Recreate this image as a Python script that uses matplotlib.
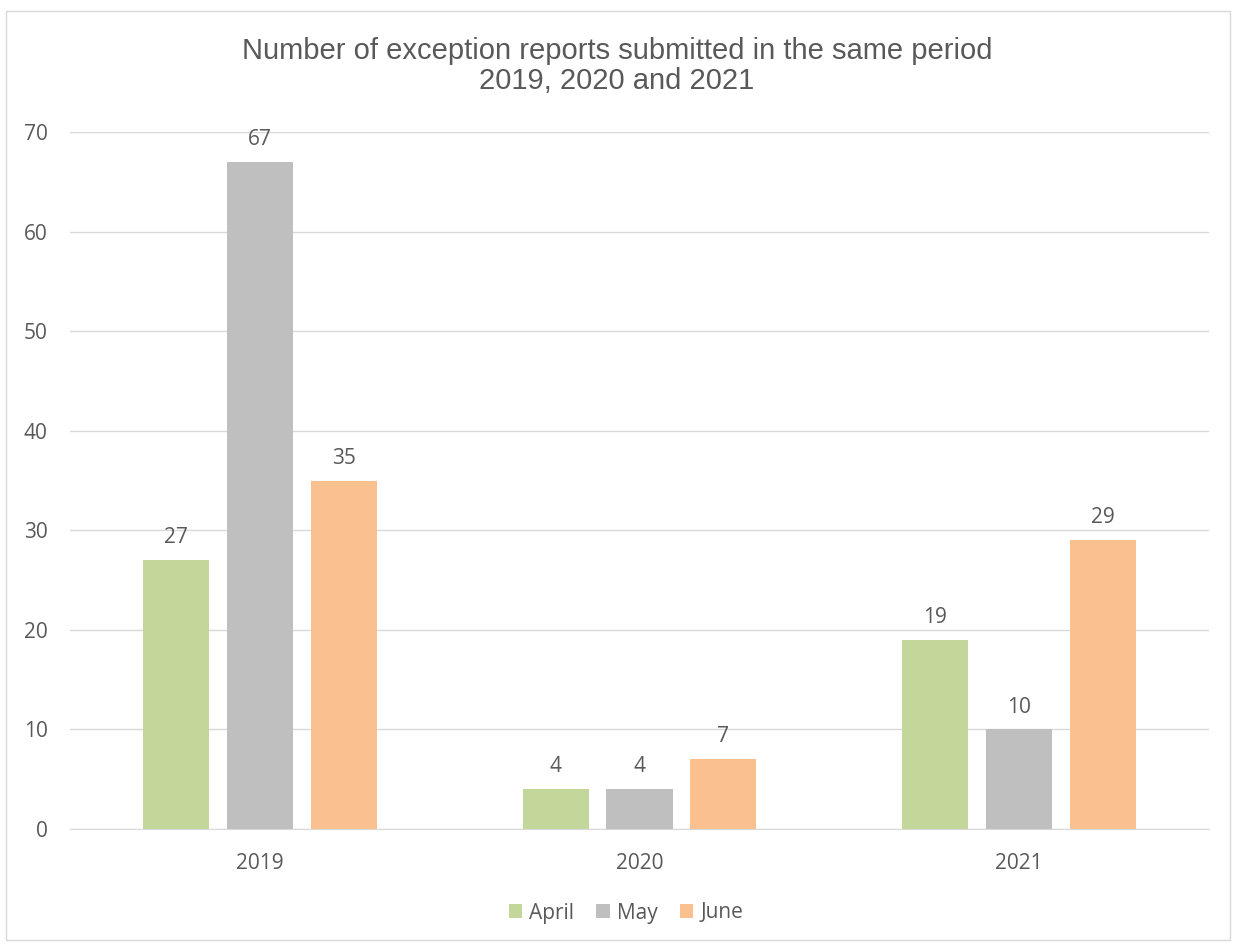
import matplotlib
matplotlib.use("Agg")
import matplotlib.pyplot as plt
import numpy as np
from matplotlib.patches import Rectangle

years = ["2019", "2020", "2021"]
series_names = ["April", "May", "June"]
april = [27, 4, 19]
may = [67, 4, 10]
june = [35, 7, 29]
colors = ["#C4D79B", "#BFBFBF", "#FAC090"]
title = "Number of exception reports submitted in the same period\n2019, 2020 and 2021"

txt = "#595959"
fs = 15
fig = plt.figure(figsize=(12.34, 9.48), dpi=100)
fig.patches.append(Rectangle((6/1234, 8/948), 1224/1234, 929/948, transform=fig.transFigure,
                             fill=False, edgecolor="#d9d9d9", linewidth=1))
ax = fig.add_axes([70/1234, (948-829)/948, (1209-70)/1234, (829-132)/948])

x = np.arange(len(years))
w = 0.174
step = 0.221
for i, (name, vals, c) in enumerate(zip(series_names, [april, may, june], colors)):
    pos = x + (i - 1) * step
    ax.bar(pos, vals, width=w, color=c, label=name, zorder=3)
    for p, v in zip(pos, vals):
        ax.annotate(str(v), (p, v), xytext=(0, 8.5), textcoords="offset points",
                    ha="center", va="bottom", fontsize=fs, color=txt, family="Open Sans")

ax.set_xlim(-0.5, 2.5)
ax.set_ylim(0, 70)
ax.set_yticks(range(0, 71, 10))
ax.set_xticks(x)
ax.set_xticklabels(years)
ax.grid(axis="y", color="#d9d9d9", linewidth=1, zorder=0)
for s in ["top", "right", "left"]:
    ax.spines[s].set_visible(False)
ax.spines["bottom"].set_color("#d9d9d9")
ax.tick_params(axis="both", length=0, labelsize=fs, labelcolor=txt)
ax.tick_params(axis="y", pad=16)
ax.tick_params(axis="x", pad=17)
for lab in ax.get_xticklabels() + ax.get_yticklabels():
    lab.set_family("Open Sans")

fig.text(0.5, 1 - 66/948, title, ha="center", va="center", fontsize=21, color=txt,
         family="Liberation Sans", linespacing=1.12)

leg = fig.legend(loc="center", bbox_to_anchor=(626/1234, 1 - 913/948), ncol=3, frameon=False,
                 prop={"family": "Open Sans", "size": fs}, handlelength=0.65, handleheight=0.65,
                 handletextpad=0.35, columnspacing=1.05)
for t in leg.get_texts():
    t.set_color(txt)

fig.savefig("out.png", dpi=100)
